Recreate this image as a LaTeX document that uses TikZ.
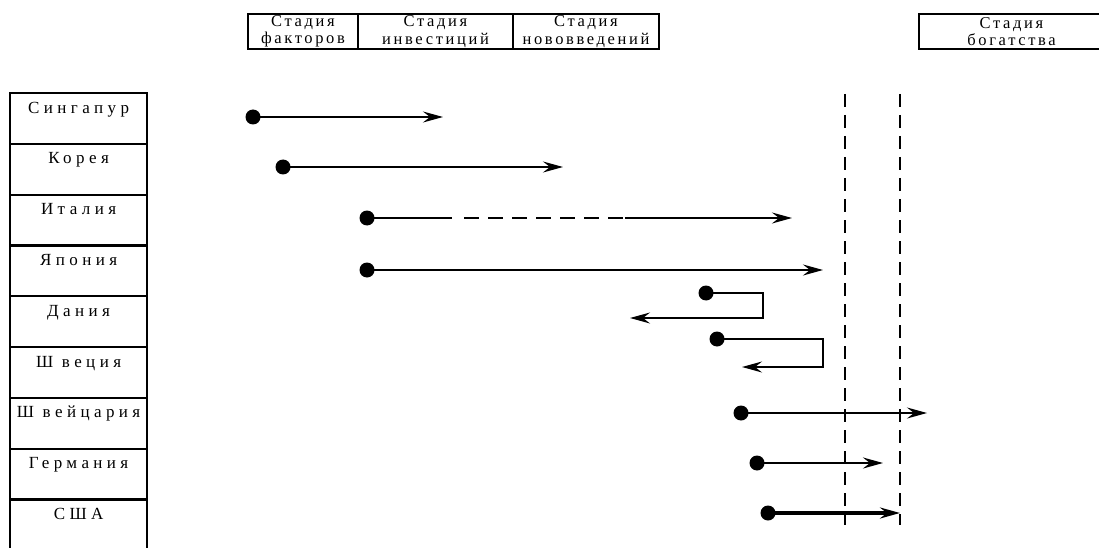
\documentclass[tikz,border=0pt]{standalone}
\usepackage{fontspec}
\setmainfont{Liberation Serif}
\newfontfamily\hdrfont[LetterSpace=16]{Liberation Serif}
\newfontfamily\rowfont[LetterSpace=26]{Liberation Serif}
\usetikzlibrary{arrows.meta}
\begin{document}
\begin{tikzpicture}[x=1pt,y=-1pt,
  hdr/.style={draw,line width=2pt,anchor=north west,inner sep=0pt,minimum height=35pt,align=center,font=\hdrfont\fontsize{16.5}{17.5}\selectfont},
  rowbox/.style={draw,line width=2.2pt,anchor=north west,minimum width=137pt,inner xsep=0pt,inner ysep=3pt,text height=17pt,text depth=27.8pt,font=\rowfont\fontsize{17}{19}\selectfont},
  dot/.style={circle,fill=black,inner sep=0pt,minimum size=15pt},
  arr/.style={line width=1.7pt,-{Stealth[length=20pt,width=11pt,inset=7pt]}},
  ln/.style={line width=1.7pt},
  vdash/.style={line width=1.4pt,dash pattern=on 13pt off 8pt},
  idash/.style={line width=2pt,dash pattern=on 15pt off 9pt}]
\useasboundingbox[fill=white] (0,0) rectangle (1099,548);
% header
\node[hdr,minimum width=110pt] (h1) at (247,13) {Стадия\\факторов};
\node[hdr,minimum width=155pt] (h2) at (357,13) {Стадия\\инвестиций};
\node[hdr,minimum width=146pt] (h3) at (512,13) {Стадия\\нововведений};
\node[hdr,minimum width=185pt] (h4) at (918,13) {Стадия\\богатства};
% rows
\node[rowbox] (r1) at (9,92.0) {Сингапур};
\node[rowbox] (r2) at (9,142.8) {Корея};
\node[rowbox] (r3) at (9,193.6) {Италия};
\node[rowbox] (r4) at (9,244.4) {Япония};
\node[rowbox] (r5) at (9,295.2) {Дания};
\node[rowbox] (r6) at (9,346.0) {Ш веция};
\node[rowbox] (r7) at (9,396.8) {Ш вейцария};
\node[rowbox] (r8) at (9,447.6) {Германия};
\node[rowbox] (r9) at (9,498.4) {США};
% vertical dashed lines
\coordinate (v1t) at (845,94); \coordinate (v1b) at (845,525);
\coordinate (v2t) at (900,94); \coordinate (v2b) at (900,525);
\draw[vdash] (v1t) -- (v1b);
\draw[vdash] (v2t) -- (v2b);
% Singapore
\node[dot] (d1) at (253,117) {};
\coordinate (e1) at (443,117);
\draw[arr] (d1.center) -- (e1);
% Korea
\node[dot] (d2) at (283,167) {};
\coordinate (e2) at (563,167);
\draw[arr] (d2.center) -- (e2);
% Italy
\node[dot] (d3) at (367,218) {};
\coordinate (c3a) at (452,218); \coordinate (c3b) at (625,218); \coordinate (e3) at (792,218);
\draw[ln] (d3.center) -- (c3a);
\draw[idash] (c3a) ++(12,0) -- (c3b);
\draw[arr] (c3b) -- (e3);
% Japan
\node[dot] (d4) at (367,270) {};
\coordinate (e4) at (823,270);
\draw[arr] (d4.center) -- (e4);
% Denmark
\node[dot] (d5) at (706,293) {};
\coordinate (k5a) at (763,293); \coordinate (k5b) at (763,318); \coordinate (e5) at (630,318);
\draw[arr] (d5.center) -- (k5a) -- (k5b) -- (e5);
% Sweden
\node[dot] (d6) at (717,339) {};
\coordinate (k6a) at (823,339); \coordinate (k6b) at (823,367); \coordinate (e6) at (742,367);
\draw[arr] (d6.center) -- (k6a) -- (k6b) -- (e6);
% Switzerland
\node[dot] (d7) at (741,413) {};
\coordinate (e7) at (927,413);
\draw[arr] (d7.center) -- (e7);
% Germany
\node[dot] (d8) at (757,463) {};
\coordinate (e8) at (883,463);
\draw[arr,line width=2.4pt] (d8.center) -- (e8);
% USA
\node[dot] (d9) at (768,513) {};
\coordinate (e9) at (900,513);
\draw[arr,line width=3.3pt] (d9.center) -- (e9);
\end{tikzpicture}
\end{document}
